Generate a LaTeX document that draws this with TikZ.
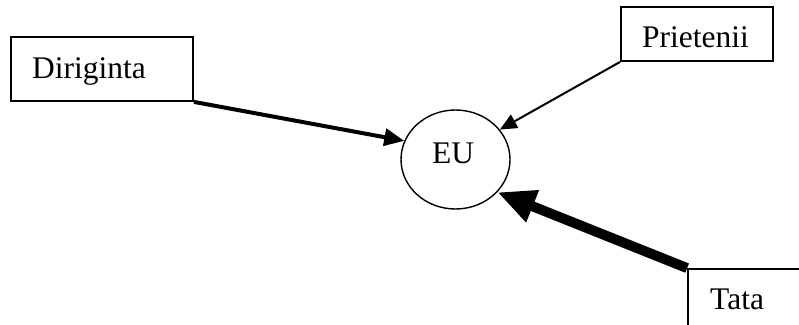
\documentclass[tikz,border=0pt]{standalone}
\usepackage{fontspec}
\setmainfont{Liberation Serif}
\usetikzlibrary{arrows.meta,shapes.geometric}
\begin{document}
\begin{tikzpicture}[x=1pt,y=-1pt,
  box/.style={draw, line width=1.8pt, rectangle, inner sep=0pt},
  lbl/.style={inner sep=0pt, anchor=base west, font=\fontsize{31.5}{36}\selectfont},
  me/.style={draw, line width=1.4pt, ellipse, inner sep=0pt, minimum width=109pt, minimum height=99pt}]
\useasboundingbox (0,0) rectangle (799,324);
\fill[white] (0,0) rectangle (799,324);
\clip (0,0) rectangle (799,324);
\node[box, minimum width=182pt, minimum height=64pt] (dir) at (102,69) {};
\node[lbl] (dirt) at (32,78) {Diriginta};
\node[box, minimum width=152pt, minimum height=54pt] (pri) at (697,34) {};
\node[lbl] (prit) at (642,47) {Prietenii};
\node[box, minimum width=160pt, minimum height=100pt] (tata) at (768,319) {};
\node[lbl] (tatat) at (710,309) {Tata};
\node[me] (eu) at (455.5,159.5) {};
\node[lbl] (eut) at (432,163) {EU};
\draw[line width=4pt, -{Triangle[length=20pt,width=17pt]}] (dir.south east) -- (eu.160);
\draw[line width=2pt, -{Triangle[length=17pt,width=15pt]}] (pri.south west) -- (eu.34);
\draw[line width=10pt, -{Triangle[length=38pt,width=32pt]}] (tata.north west) -- (eu.-38);
\end{tikzpicture}
\end{document}
